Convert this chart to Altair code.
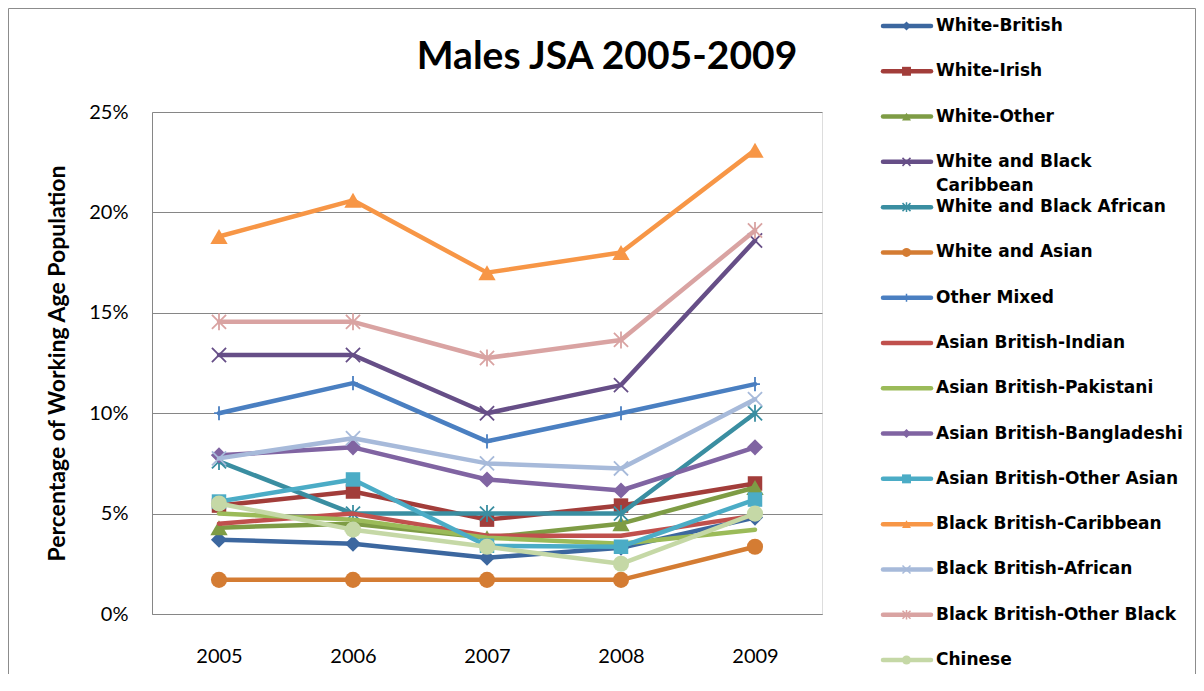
import altair as alt
import pandas as pd

years = ["2005", "2006", "2007", "2008", "2009"]

series = [
    "White-British", "White-Irish", "White-Other", "White and Black Caribbean",
    "White and Black African", "White and Asian", "Other Mixed",
    "Asian British-Indian", "Asian British-Pakistani", "Asian British-Bangladeshi",
    "Asian British-Other Asian", "Black British-Caribbean", "Black British-African",
    "Black British-Other Black", "Chinese",
]

white_british = [3.7, 3.5, 2.8, 3.3, 4.8]
white_irish = [5.4, 6.1, 4.7, 5.4, 6.5]
white_other = [4.3, 4.5, 3.8, 4.5, 6.3]
wb_caribbean = [12.9, 12.9, 10.0, 11.4, 18.6]
wb_african = [7.6, 5.0, 5.0, 5.0, 10.0]
white_asian = [1.7, 1.7, 1.7, 1.7, 3.35]
other_mixed = [10.0, 11.5, 8.6, 10.0, 11.45]
indian = [4.5, 5.0, 3.9, 3.9, 4.9]
pakistani = [5.0, 4.7, 3.8, 3.5, 4.2]
bangladeshi = [7.9, 8.3, 6.7, 6.15, 8.3]
other_asian = [5.6, 6.7, 3.4, 3.35, 5.7]
black_caribbean = [18.8, 20.6, 17.0, 18.0, 23.1]
black_african = [7.75, 8.75, 7.5, 7.25, 10.7]
other_black = [14.55, 14.55, 12.75, 13.65, 19.1]
chinese = [5.5, 4.2, 3.35, 2.5, 5.0]

values = [white_british, white_irish, white_other, wb_caribbean, wb_african,
          white_asian, other_mixed, indian, pakistani, bangladeshi, other_asian,
          black_caribbean, black_african, other_black, chinese]

colors = ["#3C679F", "#A23D3A", "#7E9C45", "#664E87", "#3A8EA1", "#D47C33",
          "#4A7FC1", "#C0504D", "#9BBB59", "#8064A2", "#4BACC6", "#F79646",
          "#A7BADA", "#D9A3A2", "#C5D8A6"]

title_text = "Males JSA 2005-2009"
y_title = "Percentage of Working Age Population"

X_PATH = "M-1,-1L1,1M-1,1L1,-1"
AST_PATH = "M-1,-1L1,1M-1,1L1,-1M0,-1.2L0,1.2"
PLUS_PATH = "M0,-1L0,1M-0.7,0L0.7,0"

# (shape, filled)
markers = [("diamond", True), ("square", True), ("triangle-up", True),
           (X_PATH, False), (AST_PATH, False), ("circle", True), (PLUS_PATH, False),
           (None, True), (None, True), ("diamond", True), ("square", True),
           ("triangle-up", True), (X_PATH, False), (AST_PATH, False), ("circle", True)]

rows = []
for name, vals in zip(series, values):
    for yr, v in zip(years, vals):
        rows.append({"series": name, "year": yr, "value": v})
df = pd.DataFrame(rows)

label1 = [s for s in series]
label2 = ["" for s in series]
label1[3] = "White and Black"
label2[3] = "Caribbean"
leg_df = pd.DataFrame({"series": series, "label1": label1, "label2": label2})

FONT = "Lato"

x_enc = alt.X(
    "year:O",
    scale=alt.Scale(type="point", padding=0.5),
    axis=alt.Axis(title=None, labelAngle=0, ticks=False, labelPadding=32,
                  labelFont=FONT, labelFontSize=20, labelColor="#000000",
                  domainColor="#868686", domainWidth=1, grid=False),
)
y_enc = alt.Y(
    "value:Q",
    scale=alt.Scale(domain=[0, 25], nice=False, zero=True),
    axis=alt.Axis(values=[0, 5, 10, 15, 20, 25], labelExpr="datum.value + '%'",
                  ticks=False, labelPadding=24, labelFont=FONT, labelFontSize=20,
                  labelColor="#000000", domainColor="#868686", domainWidth=1,
                  grid=True, gridColor="#868686", gridWidth=1,
                  title=y_title,
                  titleFont=FONT, titleFontSize=23, titleFontWeight="bold",
                  titleColor="#000000", titleAngle=270, titleX=-95, titleY=251,
                  titleAlign="center", titleBaseline="middle"),
)

main_layers = []
for i, name in enumerate(series):
    base = alt.Chart(df).transform_filter(alt.FieldEqualPredicate(field="series", equal=name))
    main_layers.append(
        base.mark_line(color=colors[i], strokeWidth=4.5, strokeJoin="round", strokeCap="round")
        .encode(x=x_enc, y=y_enc)
    )
    shp, filled = markers[i]
    if shp is None:
        continue
    if filled:
        size = 260 if shp in ("circle", "diamond") else (300 if shp == "triangle-up" else 210)
        pt = base.mark_point(shape=shp, filled=True, color=colors[i], size=size, opacity=1)
    else:
        pt = base.mark_point(shape=shp, filled=False, color=colors[i], size=200,
                             strokeWidth=1.8, opacity=1)
    main_layers.append(pt.encode(x=x_enc, y=y_enc))

main = alt.layer(*main_layers)

ly = alt.Y("series:N", scale=alt.Scale(type="point", domain=series, range=[-86, 548], padding=0),
           axis=None)

leg_layers = []
for i, name in enumerate(series):
    lb = alt.Chart(leg_df).transform_filter(alt.FieldEqualPredicate(field="series", equal=name))
    leg_layers.append(
        lb.mark_rule(color=colors[i], strokeWidth=4.5, strokeCap="round")
        .encode(x=alt.value(731), x2=alt.value(779), y=ly)
    )
    shp, filled = markers[i]
    if shp is None:
        continue
    if filled:
        pt = lb.mark_point(shape=shp, filled=True, color=colors[i], size=80, opacity=1)
    else:
        pt = lb.mark_point(shape=shp, filled=False, color=colors[i], size=64,
                           strokeWidth=1.5, opacity=1)
    leg_layers.append(pt.encode(x=alt.value(754.5), y=ly))

leg_layers.append(
    alt.Chart(leg_df).mark_text(align="left", baseline="middle", font="DejaVu Sans",
                                fontSize=17, fontWeight="bold", color="#000000")
    .encode(x=alt.value(784), y=ly, text="label1:N")
)
leg_layers.append(
    alt.Chart(leg_df).mark_text(align="left", baseline="middle", font="DejaVu Sans",
                                fontSize=17, fontWeight="bold", color="#000000", dy=24)
    .encode(x=alt.value(784), y=ly, text="label2:N")
)
legend = alt.layer(*leg_layers)

border = alt.Chart(leg_df.head(1)).mark_rect(fill="transparent", stroke="#8C8C8C", strokeWidth=1).encode(
    x=alt.value(-143.5), x2=alt.value(1043.5), y=alt.value(-103.5), y2=alt.value(620)
)

title = alt.Chart(leg_df.head(1)).mark_text(
    text=title_text, font=FONT, fontSize=39, fontWeight="bold", color="#000000",
    align="center", baseline="alphabetic"
).encode(x=alt.value(455), y=alt.value(-43))

chart = alt.layer(border, title, main, legend).resolve_scale(y="independent").properties(
    width=670,
    height=502,
    autosize=alt.AutoSizeParams(type="none"),
    padding={"left": 144, "top": 104, "right": 374, "bottom": 60},
).configure_view(stroke="transparent").configure(background="white")

chart.save("out.html", embed_options={"renderer": "svg", "actions": False})
